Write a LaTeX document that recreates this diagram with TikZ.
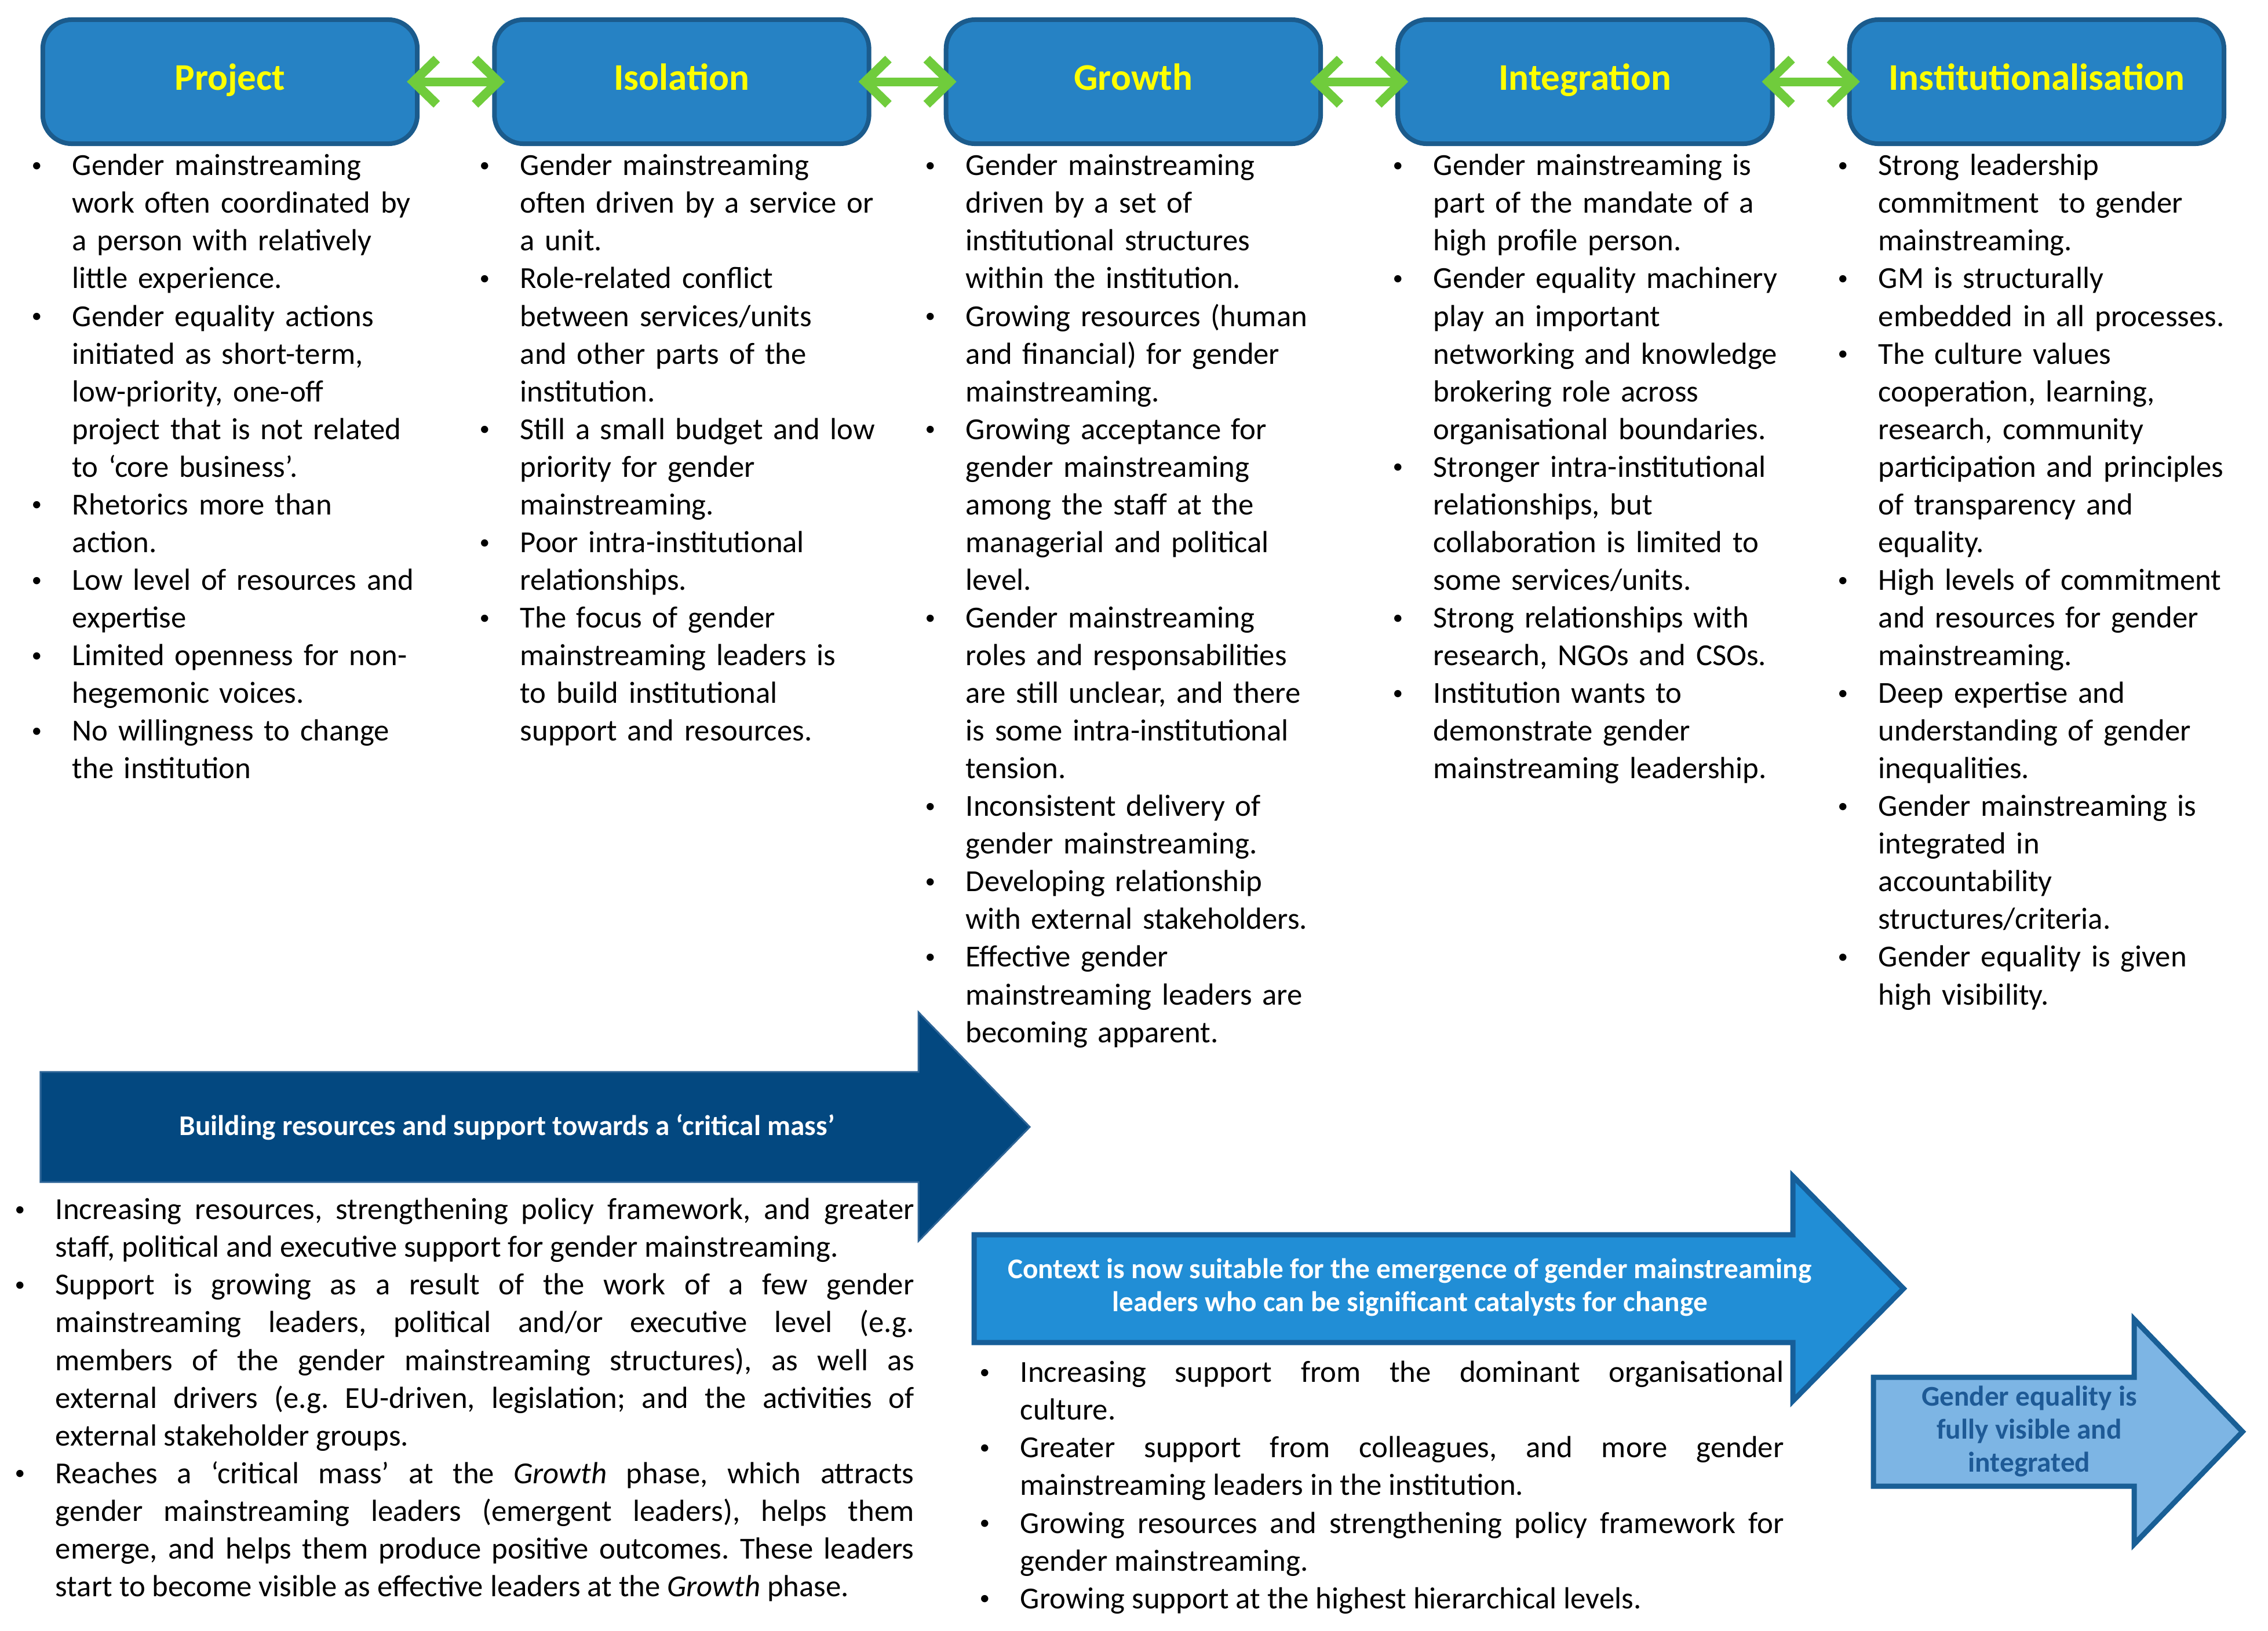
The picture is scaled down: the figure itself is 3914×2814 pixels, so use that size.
\documentclass[tikz,border=0pt]{standalone}
\usepackage{fontspec}
\setmainfont{Carlito}
\usepackage{enumitem}
\usetikzlibrary{positioning,arrows.meta}
\definecolor{phasefill}{RGB}{38,130,196}
\definecolor{phaseedge}{RGB}{27,91,140}
\definecolor{phasetext}{RGB}{255,255,0}
\definecolor{linkgreen}{RGB}{112,204,60}
\definecolor{massfill}{RGB}{3,72,128}
\definecolor{massedge}{RGB}{45,100,150}
\definecolor{contextfill}{RGB}{33,142,214}
\definecolor{contextedge}{RGB}{22,94,153}
\definecolor{visiblefill}{RGB}{125,181,228}
\definecolor{visibleedge}{RGB}{25,95,150}
\definecolor{visibletext}{RGB}{30,90,150}
\newcommand{\smallbullet}{\raisebox{0.12em}{\fontsize{10}{10}\selectfont\textbullet}}
\setlist[itemize]{label=\smallbullet, leftmargin=0.7cm, labelwidth=0.3cm, labelsep=0.4cm, align=left, itemsep=0pt, parsep=0pt, topsep=0pt, partopsep=0pt}
\frenchspacing
\begin{document}
\begin{tikzpicture}[
    x=0.01cm, y=-0.01cm,
    phase/.style={rectangle, rounded corners=0.5cm, draw=phaseedge, line width=0.08cm, fill=phasefill, minimum width=6.46cm, minimum height=2.14cm, text height=0.87em, text depth=0.07em, text=phasetext, font=\fontsize{18.5}{22}\selectfont\bfseries},
    link/.style={<->, >={Straight Barb[length=0.4cm, width=0.78cm, line width=0.16cm]}, draw=linkgreen, line width=0.15cm, shorten <=-0.22cm, shorten >=-0.22cm},
    col/.style={anchor=north west, inner sep=0pt, text width=7.3cm, align=left, font=\fontsize{15}{18.5}\selectfont},
    para/.style={anchor=north west, inner sep=0pt, align=justify, font=\fontsize{15}{18.5}\selectfont},
    band/.style={line width=0.09cm},
    bandtext/.style={text=white, align=center, font=\fontsize{14}{16.2}\selectfont\bfseries}
]
\useasboundingbox (0,0) rectangle (3914,2814);
\node[phase] (project) at (397,141) {Project};
\node[phase, right=1.25cm of project] (isolation) {Isolation};
\node[phase, right=1.25cm of isolation] (growth) {Growth};
\node[phase, right=1.25cm of growth] (integration) {Integration};
\node[phase, right=1.25cm of integration] (institution) {Institutionalisation};

\draw[link] (project) -- (isolation);
\draw[link] (isolation) -- (growth);
\draw[link] (growth) -- (integration);
\draw[link] (integration) -- (institution);

\node[col] (projectlist) at (54,237) {\begin{itemize}
\item Gender mainstreaming\\work often coordinated by\\a person with relatively\\little experience.
\item Gender equality actions\\initiated as short-term,\\low-priority, one-off\\project that is not related\\to ‘core business’.
\item Rhetorics more than\\action.
\item Low level of resources and\\expertise
\item Limited openness for non-\\hegemonic voices.
\item No willingness to change\\the institution
\end{itemize}};
\node[col] (isolationlist) at (827,237) {\begin{itemize}
\item Gender mainstreaming\\often driven by a service or\\a unit.
\item Role-related conflict\\between services/units\\and other parts of the\\institution.
\item Still a small budget and low\\priority for gender\\mainstreaming.
\item Poor intra-institutional\\relationships.
\item The focus of gender\\mainstreaming leaders is\\to build institutional\\support and resources.
\end{itemize}};
\node[col] (growthlist) at (1596,237) {\begin{itemize}
\item Gender mainstreaming\\driven by a set of\\institutional structures\\within the institution.
\item Growing resources (human\\and financial) for gender\\mainstreaming.
\item Growing acceptance for\\gender mainstreaming\\among the staff at the\\managerial and political\\level.
\item Gender mainstreaming\\roles and responsabilities\\are still unclear, and there\\is some intra-institutional\\tension.
\item Inconsistent delivery of\\gender mainstreaming.
\item Developing relationship\\with external stakeholders.
\item Effective gender\\mainstreaming leaders are\\becoming apparent.
\end{itemize}};
\node[col] (integrationlist) at (2403,237) {\begin{itemize}
\item Gender mainstreaming is\\part of the mandate of a\\high profile person.
\item Gender equality machinery\\play an important\\networking and knowledge\\brokering role across\\organisational boundaries.
\item Stronger intra-institutional\\relationships, but\\collaboration is limited to\\some services/units.
\item Strong relationships with\\research, NGOs and CSOs.
\item Institution wants to\\demonstrate gender\\mainstreaming leadership.
\end{itemize}};
\node[col] (institutionlist) at (3171,237) {\begin{itemize}
\item Strong leadership\\commitment ~to gender\\mainstreaming.
\item GM is structurally\\embedded in all processes.
\item The culture values\\cooperation, learning,\\research, community\\participation and principles\\of transparency and\\equality.
\item High levels of commitment\\and resources for gender\\mainstreaming.
\item Deep expertise and\\understanding of gender\\inequalities.
\item Gender mainstreaming is\\integrated in\\accountability\\structures/criteria.
\item Gender equality is given\\high visibility.
\end{itemize}};

\draw[band, fill=massfill, draw=massedge, line width=0.03cm] (70,1850) -- (1585,1850) -- (1585,1747) -- (1777,1945) -- (1585,2142) -- (1585,2040) -- (70,2040) -- cycle;
\node[bandtext] (masslabel) at (875,1945) {Building resources and support towards a ‘critical mass’};

\node[para, text width=15.51cm] (masslist) at (25,2039) {\begin{itemize}
\item Increasing resources, strengthening policy framework, and greater\linebreak staff, political and executive support for gender mainstreaming.
\item Support is growing as a result of the work of a few gender\linebreak mainstreaming leaders, political and/or executive level (e.g.\linebreak members of the gender mainstreaming structures), as well as\linebreak external drivers (e.g. EU-driven, legislation; and the activities of\linebreak external stakeholder groups.
\item Reaches a ‘critical mass’ at the \textit{Growth} phase, which attracts\linebreak gender mainstreaming leaders (emergent leaders), helps them\linebreak emerge, and helps them produce positive outcomes. These leaders\linebreak start to become visible as effective leaders at the \textit{Growth} phase.
\end{itemize}};

\draw[band, fill=contextfill, draw=contextedge] (1681,2131) -- (3094,2131) -- (3094,2030) -- (3285,2224) -- (3094,2418) -- (3094,2317) -- (1681,2317) -- cycle;
\node[bandtext] (contextlabel) at (2433,2222) {Context is now suitable for the emergence of gender mainstreaming\\leaders who can be significant catalysts for change};

\node[para, text width=13.87cm] (contextlist) at (1690,2320) {\begin{itemize}
\item Increasing support from the dominant organisational\linebreak culture.
\item Greater support from colleagues, and more gender\linebreak mainstreaming leaders in the institution.
\item Growing resources and strengthening policy framework for\linebreak gender mainstreaming.
\item Growing support at the highest hierarchical levels.
\end{itemize}};

\draw[band, fill=visiblefill, draw=visibleedge] (3233,2377) -- (3683,2377) -- (3683,2277) -- (3870,2471) -- (3683,2665) -- (3683,2565) -- (3233,2565) -- cycle;
\node[bandtext, text=visibletext] (visiblelabel) at (3502,2470) {Gender equality is\\fully visible and\\integrated};
\end{tikzpicture}
\end{document}
